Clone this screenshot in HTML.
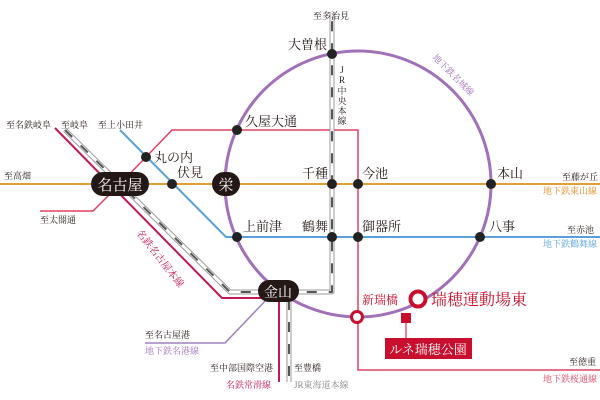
<!DOCTYPE html>
<html><head><meta charset="utf-8"><style>
html,body{margin:0;padding:0;background:#fff}
svg{display:block;font-family:"Liberation Serif","Noto Serif CJK SC",serif}
</style></head><body>
<svg width="600" height="400" viewBox="0 0 600 400" xmlns="http://www.w3.org/2000/svg">
<polyline points="268,298 225,343 145,343" fill="none" stroke="#a080c0" stroke-width="1.5"/>
<line x1="0" y1="184" x2="600" y2="184" stroke="#e0a030" stroke-width="2"/>
<polyline points="120,130 226,237 600,237" fill="none" stroke="#5aa0d8" stroke-width="2"/>
<polyline points="40,211 93,211 120,184 172,130 358,130 358,370 600,370" fill="none" stroke="#e04060" stroke-width="1.5"/>
<g fill="none" stroke-linejoin="round">
<polyline points="65,130 230,292 332,292 332,12" stroke="#999" stroke-width="5"/>
<polyline points="65,130 230,292 332,292 332,12" stroke="#fff" stroke-width="3"/>
<polyline points="65,130 230,292 332,292 332,12" stroke="#555" stroke-width="2" stroke-dasharray="10,12"/>
<line x1="289" y1="300" x2="289" y2="382" stroke="#999" stroke-width="5"/>
<line x1="289" y1="300" x2="289" y2="382" stroke="#fff" stroke-width="3"/>
<line x1="289" y1="300" x2="289" y2="382" stroke="#555" stroke-width="2" stroke-dasharray="10,12"/>
</g>
<polyline points="55,128 222,298 270,298" fill="none" stroke="#c0185a" stroke-width="2"/>
<line x1="279" y1="300" x2="279" y2="382" stroke="#c0185a" stroke-width="2"/>
<circle cx="358" cy="184" r="133" fill="none" stroke="#a070b8" stroke-width="3"/>
<g fill="#222">
<circle cx="332" cy="54" r="5"/><circle cx="237" cy="130" r="5"/><circle cx="146" cy="157" r="5"/>
<circle cx="172" cy="184" r="5"/><circle cx="332" cy="184" r="5"/><circle cx="358" cy="184" r="5"/>
<circle cx="491" cy="184" r="5"/><circle cx="237" cy="237" r="5"/><circle cx="332" cy="237" r="5"/>
<circle cx="358" cy="237" r="5"/><circle cx="480" cy="237" r="5"/>
</g>
<rect x="91" y="172" width="58" height="24" rx="12" fill="#231815"/>
<text x="120" y="190" fill="#fff" font-size="15" text-anchor="middle">名古屋</text>
<rect x="212" y="172" width="28" height="24" rx="12" fill="#231815"/>
<text x="226" y="190" fill="#fff" font-size="15" text-anchor="middle">栄</text>
<rect x="258" y="280" width="41" height="22" rx="11" fill="#231815"/>
<text x="278" y="297" fill="#fff" font-size="14" text-anchor="middle">金山</text>
<circle cx="357" cy="317" r="5.5" fill="#fff" stroke="#c8102e" stroke-width="3"/>
<circle cx="418" cy="299" r="7.5" fill="#fff" stroke="#c8102e" stroke-width="4"/>
<rect x="401" y="313" width="10" height="10" fill="#c8102e"/>
<line x1="406" y1="323" x2="406" y2="339" stroke="#c8102e" stroke-width="1"/>
<rect x="385" y="338" width="87" height="21" fill="#c8102e"/>
<text x="428" y="354" fill="#fff" font-size="13" text-anchor="middle">ルネ瑞穂公園</text>
<text x="431" y="305" fill="#c8102e" font-size="16">瑞穂運動場東</text>
<text x="362" y="304" fill="#c8102e" font-size="12">新瑞橋</text>
<g fill="#231815" font-size="13">
<text x="288" y="49">大曽根</text>
<text x="245" y="126">久屋大通</text>
<text x="154" y="162">丸の内</text>
<text x="177" y="177">伏見</text>
<text x="302" y="178">千種</text>
<text x="362" y="178">今池</text>
<text x="497" y="178">本山</text>
<text x="243" y="231">上前津</text>
<text x="302" y="231">鶴舞</text>
<text x="362" y="231">御器所</text>
<text x="489" y="231">八事</text>
</g>
<g fill="#231815" font-size="9">
<text x="313" y="19">至多治見</text>
<text x="6" y="128">至名鉄岐阜</text>
<text x="61" y="128">至岐阜</text>
<text x="98" y="128">至上小田井</text>
<text x="4" y="179">至高畑</text>
<text x="40" y="223">至太閤通</text>
<text x="562" y="180">至藤が丘</text>
<text x="567" y="233">至赤池</text>
<text x="569" y="365">至徳重</text>
<text x="145" y="338">至名古屋港</text>
<text x="210" y="371">至中部国際空港</text>
<text x="294" y="371">至豊橋</text>
</g>
<g font-size="9">
<text x="543" y="194" fill="#e08a20">地下鉄東山線</text>
<text x="543" y="247" fill="#5aa0d8">地下鉄鶴舞線</text>
<text x="543" y="382" fill="#e04060">地下鉄桜通線</text>
<text x="145" y="354" fill="#a070b8">地下鉄名港線</text>
<text x="226" y="388" fill="#c0185a">名鉄常滑線</text>
<text x="294" y="388" fill="#888">JR東海道本線</text>
</g>
<g font-size="9" fill="#231815" text-anchor="middle">
<text x="342" y="73">J</text><text x="342" y="83">R</text><text x="342" y="94">中</text><text x="342" y="104">央</text><text x="342" y="114">本</text><text x="342" y="124">線</text>
</g>
<text transform="translate(432,58) rotate(45)" fill="#a070b8" font-size="9">地下鉄名城線</text>
<text transform="translate(136,233) rotate(52)" fill="#c0185a" font-size="10">名鉄名古屋本線</text>
</svg>
</body></html>
